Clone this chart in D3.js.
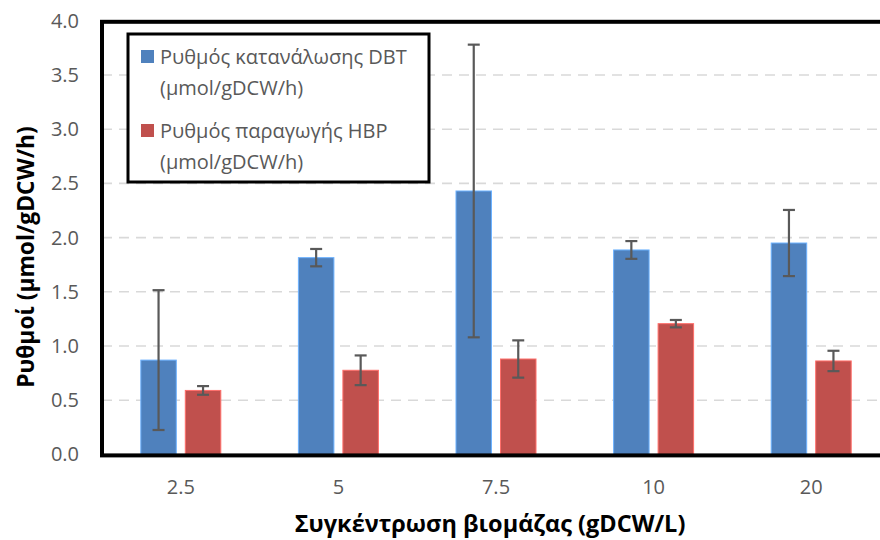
<!DOCTYPE html>
<html>
<head>
<meta charset="utf-8">
<script src="https://cdn.jsdelivr.net/npm/d3@7"></script>
<style>
  html, body { margin: 0; padding: 0; background: #fff; }
  svg { display: block; font-family: "Open Sans", "Noto Sans", sans-serif; }
</style>
</head>
<body>
<svg id="chart" width="880" height="540"></svg>
<script>
// Biomass concentrations (gDCW/L)
const categories = ["2.5", "5", "7.5", "10", "20"];
// DBT consumption rate and its error
const dbtRate = [0.87, 1.815, 2.43, 1.886, 1.95];
const dbtErr  = [0.645, 0.08, 1.35, 0.082, 0.305];
// HBP production rate and its error
const hbpRate = [0.59, 0.776, 0.88, 1.206, 0.862];
const hbpErr  = [0.04, 0.137, 0.172, 0.034, 0.094];
const yTicks = [0, 0.5, 1, 1.5, 2, 2.5, 3, 3.5, 4];

const seriesNames = [
  ["Ρυθμός κατανάλωσης DBT", "(μmol/gDCW/h)"],
  ["Ρυθμός παραγωγής HBP", "(μmol/gDCW/h)"]
];
const colors = ["#4F81BD", "#C0504D"];

const svg = d3.select("#chart");
const plotL = 102, plotR = 890, plotT = 20.8, plotB = 454.4;

const x = d3.scaleBand().domain(categories).range([plotL, plotR]).paddingInner(0).paddingOuter(0);
const y = d3.scaleLinear().domain([0, 4]).range([plotB, plotT]);

// dashed gridlines
svg.append("g").selectAll("line")
  .data(yTicks.filter(t => t > 0 && t < 4))
  .join("line")
  .attr("x1", plotL).attr("x2", plotR)
  .attr("y1", d => y(d)).attr("y2", d => y(d))
  .attr("stroke", "#d9d9d9").attr("stroke-width", 1.6)
  .attr("stroke-dasharray", "10,7");

// y axis tick labels
const yAxis = d3.axisLeft(y).tickValues(yTicks).tickFormat(d3.format(".1f")).tickSize(0).tickPadding(23);
const gy = svg.append("g").attr("transform", `translate(${plotL},0)`).call(yAxis);
gy.select(".domain").remove();
gy.selectAll("text").attr("font-size", 20).attr("fill", "#595959")
  .attr("font-family", "Open Sans, Noto Sans, sans-serif");

// x axis tick labels
const xAxis = d3.axisBottom(x).tickSize(0).tickPadding(25);
const gx = svg.append("g").attr("transform", `translate(0,${plotB})`).call(xAxis);
gx.select(".domain").remove();
gx.selectAll("text").attr("font-size", 20).attr("fill", "#595959")
  .attr("font-family", "Open Sans, Noto Sans, sans-serif");

// bars
const barW = 35.5, gap = 9;
const sub = d3.scaleOrdinal().domain([0, 1]).range([-(barW + gap / 2), gap / 2]);
const seriesVals = [dbtRate, hbpRate];
const seriesErr = [dbtErr, hbpErr];

seriesVals.forEach((vals, s) => {
  const bx = i => x(categories[i]) + x.bandwidth() / 2 + sub(s);
  svg.append("g").selectAll("rect")
    .data(vals)
    .join("rect")
    .attr("x", (d, i) => bx(i))
    .attr("y", d => y(d))
    .attr("width", barW)
    .attr("height", d => plotB - y(d))
    .attr("fill", colors[s])
    .attr("stroke", d3.color(colors[s]).brighter(0.9))
    .attr("stroke-width", 1);
});

// error bars
seriesVals.forEach((vals, s) => {
  const cx = i => x(categories[i]) + x.bandwidth() / 2 + sub(s) + barW / 2;
  const g = svg.append("g").attr("stroke", "#595959").attr("stroke-width", 2.2);
  vals.forEach((v, i) => {
    const e = seriesErr[s][i];
    const c = cx(i);
    g.append("line").attr("x1", c).attr("x2", c).attr("y1", y(v + e)).attr("y2", y(v - e));
    g.append("line").attr("x1", c - 6).attr("x2", c + 6).attr("y1", y(v + e)).attr("y2", y(v + e));
    g.append("line").attr("x1", c - 6).attr("x2", c + 6).attr("y1", y(v - e)).attr("y2", y(v - e));
  });
});

// plot frame
svg.append("rect")
  .attr("x", plotL).attr("y", plotT + 1)
  .attr("width", plotR - plotL).attr("height", plotB - plotT)
  .attr("fill", "none").attr("stroke", "#000").attr("stroke-width", 4);

// legend
const lg = svg.append("g");
lg.append("rect").attr("x", 128).attr("y", 34).attr("width", 301).attr("height", 148)
  .attr("fill", "#fff").attr("stroke", "#000").attr("stroke-width", 3);
seriesNames.forEach((lines, s) => {
  const y0 = 50 + s * 74;
  lg.append("rect").attr("x", 141).attr("y", y0).attr("width", 13).attr("height", 13)
    .attr("fill", colors[s]);
  lines.forEach((t, k) => {
    lg.append("text").attr("x", 160).attr("y", y0 + 14 + k * 31)
      .attr("font-size", 20).attr("fill", "#595959").text(t);
  });
});

// axis titles
svg.append("text")
  .attr("transform", `translate(34,257) rotate(-90)`)
  .attr("text-anchor", "middle").attr("font-size", 22.8).attr("font-weight", "bold")
  .attr("fill", "#000").text("Ρυθμοί (μmol/gDCW/h)");
svg.append("text")
  .attr("x", 490).attr("y", 532)
  .attr("text-anchor", "middle").attr("font-size", 23.5).attr("font-weight", "bold")
  .attr("fill", "#000").text("Συγκέντρωση βιομάζας (gDCW/L)");
</script>
</body>
</html>
